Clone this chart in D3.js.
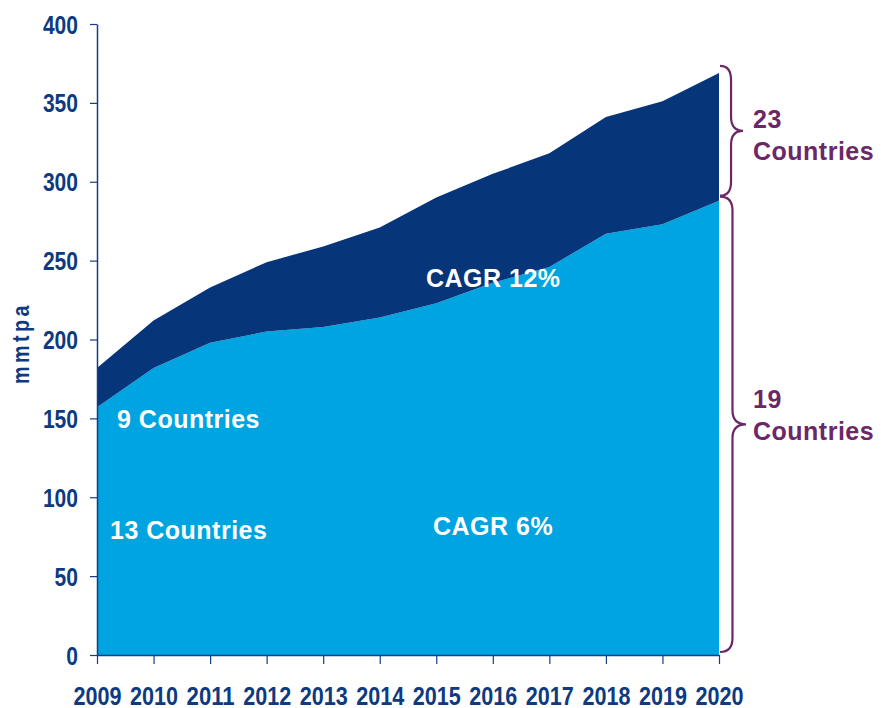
<!DOCTYPE html>
<html>
<head>
<meta charset="utf-8">
<script src="https://cdn.jsdelivr.net/npm/d3@7"></script>
<style>
  body { margin: 0; background: #fff; }
  svg { display: block; }
</style>
</head>
<body>
<svg id="chart" width="881" height="708"></svg>
<script>
// values (mmtpa)
const years = [2009, 2010, 2011, 2012, 2013, 2014, 2015, 2016, 2017, 2018, 2019, 2020];
const baseCountries = [157, 182, 198, 205, 208, 214, 223, 236, 246, 267, 273, 288];
const addedCountries = [25, 30, 35, 44, 51, 57, 67, 69, 72, 74, 78, 81];
const yTicks = [0, 50, 100, 150, 200, 250, 300, 350, 400];

const svg = d3.select('#chart');
const sans = '"Liberation Sans", Arial, sans-serif';
const axisColor = '#123e86';
const labelColor = '#0d3a80';
const purple = '#6b2767';

const x = d3.scalePoint().domain(years).range([97, 719]);
const y = d3.scaleLinear().domain([0, 400]).range([655, 24]);

const rows = years.map((yr, i) => ({ year: yr, base: baseCountries[i], added: addedCountries[i] }));
const stack = d3.stack().keys(['base', 'added'])(rows);
const fills = { base: '#00a4e1', added: '#073579' };

const area = d3.area()
  .x(d => x(d.data.year))
  .y0(d => y(d[0]))
  .y1(d => y(d[1]));

svg.append('g')
  .selectAll('path')
  .data(stack)
  .join('path')
  .attr('fill', d => fills[d.key])
  .attr('d', area);

// condensed look: squeeze the Arial-metric digits to narrow widths
function narrowText(sel, perChar) {
  sel.each(function() {
    const t = d3.select(this);
    t.attr('textLength', t.text().length * perChar)
      .attr('lengthAdjust', 'spacingAndGlyphs');
  });
}

// y axis
const yAxis = svg.append('g')
  .attr('transform', `translate(${x(years[0])},0)`)
  .call(d3.axisLeft(y).tickValues(yTicks).tickSize(7).tickSizeOuter(0).tickPadding(12));
yAxis.select('.domain').attr('stroke', axisColor).attr('stroke-width', 1.5);
yAxis.selectAll('.tick line').attr('stroke', axisColor).attr('stroke-width', 1.2);
yAxis.selectAll('text')
  .attr('fill', labelColor)
  .style('font-family', sans)
  .style('font-weight', 'bold')
  .style('font-size', '25px')
  .attr('dy', '0.36em')
  .call(narrowText, 11.7);

// x axis
const xAxis = svg.append('g')
  .attr('transform', `translate(0,${y(0)})`)
  .call(d3.axisBottom(x).tickSize(9).tickSizeOuter(0).tickPadding(23));
xAxis.select('.domain').attr('stroke', axisColor).attr('stroke-width', 1.5);
xAxis.selectAll('.tick line').attr('stroke', axisColor).attr('stroke-width', 1.2);
xAxis.selectAll('text')
  .attr('fill', labelColor)
  .style('font-family', sans)
  .style('font-weight', 'bold')
  .style('font-size', '26px')
  .call(narrowText, 12);

// y axis title
svg.append('text')
  .attr('transform', 'translate(29,343) rotate(-90)')
  .attr('text-anchor', 'middle')
  .attr('fill', labelColor)
  .style('font-family', sans)
  .style('font-weight', 'bold')
  .style('font-size', '23px')
  .style('letter-spacing', '4px')
  .attr('textLength', 82)
  .attr('lengthAdjust', 'spacingAndGlyphs')
  .text('mmtpa');

// white labels inside the areas
const inner = [
  { text: '9 Countries', px: 117, v: 144 },
  { text: '13 Countries', px: 110, v: 73.5 },
  { text: 'CAGR 12%', px: 426, v: 233 },
  { text: 'CAGR 6%', px: 433, v: 76 }
];
svg.append('g')
  .selectAll('text')
  .data(inner)
  .join('text')
  .attr('x', d => d.px)
  .attr('y', d => y(d.v))
  .attr('fill', '#fff')
  .style('font-family', sans)
  .style('font-weight', 'bold')
  .style('font-size', '25px')
  .style('letter-spacing', '0.5px')
  .text(d => d.text);

// curly braces on the right
function brace(x0, y1, y2, w) {
  const h = w * 0.48, r = 14, ym = (y1 + y2) / 2;
  return `M${x0},${y1} Q${x0 + h},${y1} ${x0 + h},${y1 + r}` +
    ` L${x0 + h},${ym - r} Q${x0 + h},${ym} ${x0 + w},${ym}` +
    ` Q${x0 + h},${ym} ${x0 + h},${ym + r}` +
    ` L${x0 + h},${y2 - r} Q${x0 + h},${y2} ${x0},${y2}`;
}

const last = stack[1][years.length - 1];
const xr = x(years[years.length - 1]);
const braces = [
  { top: y(last[1]) - 7, bottom: y(last[0]) - 5, w: 23, dy: -3, lines: ['23', 'Countries'] },
  { top: y(last[0]) - 4, bottom: y(0) - 3, w: 26, dy: -16, lines: ['19', 'Countries'] }
];

const bg = svg.append('g');
braces.forEach(b => {
  bg.append('path')
    .attr('d', brace(xr + 1, b.top, b.bottom, b.w))
    .attr('fill', 'none')
    .attr('stroke', purple)
    .attr('stroke-width', 2.2);
  const mid = (b.top + b.bottom) / 2;
  bg.append('text')
    .attr('x', 753)
    .attr('y', mid + b.dy)
    .attr('fill', purple)
    .style('font-family', sans)
    .style('font-weight', 'bold')
    .style('font-size', '25px')
    .style('letter-spacing', '0.5px')
    .selectAll('tspan')
    .data(b.lines)
    .join('tspan')
    .attr('x', 753)
    .attr('dy', (d, i) => i === 0 ? 0 : 32)
    .text(d => d);
});
</script>
</body>
</html>
